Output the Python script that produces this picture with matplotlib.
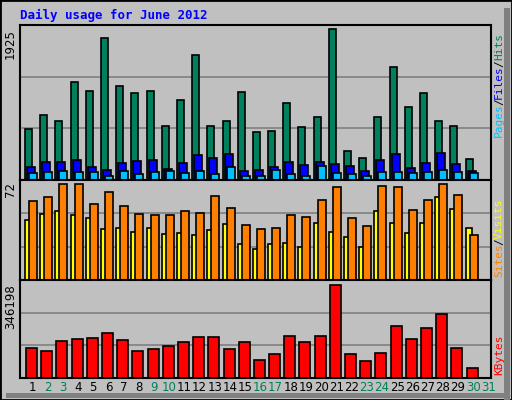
import matplotlib
matplotlib.use('Agg')
import matplotlib.pyplot as plt
import matplotlib.transforms as mtrans
import numpy as np

days = np.arange(1, 32)
hits = [645, 827, 749, 1246, 1128, 1807, 1193, 1102, 1128, 684, 1023, 1585, 684, 749, 1115, 605,
        618, 984, 671, 801, 1925, 370, 279, 801, 1442, 932, 1102, 749, 684, 266, 0]
files = [161, 226, 226, 253, 161, 122, 213, 240, 253, 135, 213, 318, 279, 331, 109, 122,
         161, 226, 187, 226, 200, 174, 109, 253, 331, 148, 213, 344, 200, 109, 0]
pages = [83, 96, 109, 96, 96, 57, 109, 70, 96, 109, 83, 109, 70, 161, 57, 57,
         122, 70, 57, 174, 83, 70, 57, 96, 96, 83, 96, 122, 96, 83, 0]
visits = [59.5, 62.6, 72, 72, 57.2, 66.5, 55.6, 49.4, 48.6, 48.6, 51.7, 50.2, 63.4, 54.1, 41.6, 38.5,
          39.2, 48.6, 47.8, 60.3, 69.7, 46.3, 40.8, 70.4, 69.7, 52.5, 60.3, 72, 64.2, 33.8, 0]
sites = [45.5, 49.4, 51.7, 48.6, 46.3, 38.5, 39.2, 36.1, 39.2, 34.6, 35.4, 33.8, 37.7, 42.4, 26.8, 23.7,
         26.8, 27.6, 25.2, 43.1, 36.1, 32.2, 25.2, 51.7, 43.1, 35.4, 43.1, 62.6, 53.3, 39.2, 0]
kbytes = [111187, 99815, 137720, 145301, 149091, 168044, 141511, 99815, 107397, 118768, 133930,
          152882, 152882, 107397, 133930, 65702, 88444, 156672, 133930, 156672, 346198, 88444,
          61911, 92235, 194578, 145301, 186997, 236273, 111187, 35378, 0]
weekend = {2, 3, 9, 10, 16, 17, 23, 24, 30, 31}

W, H = 512, 400
bg = '#C0C0C0'
fig = plt.figure(figsize=(W / 100, H / 100), dpi=100, facecolor=bg)

# outer border with shadow
fig.patches.append(plt.Rectangle((0, 0), 1, 1, transform=fig.transFigure, fill=False,
                                 edgecolor='black', lw=2))
fig.patches.append(plt.Rectangle((504 / W, 0), 6 / W, 1 - 8 / H, transform=fig.transFigure,
                                 color='#808080', lw=0))
fig.patches.append(plt.Rectangle((6 / W, 2 / H), 500 / W, 5 / H, transform=fig.transFigure,
                                 color='#808080', lw=0))

def panel(top, bottom):
    ax = fig.add_axes([20 / W, 1 - bottom / H, 471 / W, (bottom - top) / H])
    ax.set_facecolor(bg)
    ax.set_xlim(1, 32)
    ax.set_xticks([])
    ax.set_yticks([])
    for s in ax.spines.values():
        s.set_linewidth(1.5)
    return ax

sw = 471 / 31.0  # pixels per day slot

def u(px):
    return px / sw

kw = dict(align='edge', edgecolor='black', linewidth=1.2, zorder=3)

def grid(ax, top):
    ax.set_ylim(0, top)
    for f in (1 / 3, 2 / 3):
        ax.axhline(top * f, color='#808080', lw=1.2, zorder=1)

ax1 = panel(25, 180)
grid(ax1, 1925 * 151 / 147.5)
ax1.bar(days + u(5), hits, u(7), color='#00805C', **kw)
ax1.bar(days + u(7), files, u(8), color='#0000FF', **kw)
ax1.bar(days + u(9), pages, u(8), color='#00C0FF', **kw)

ax2 = panel(180, 280)
grid(ax2, 72 * 96.5 / 92.3)
ax2.bar(days + u(5), sites, u(6), color='#FFFF00', **kw)
ax2.bar(days + u(9), visits, u(8), color='#FF8000', **kw)

ax3 = panel(280, 378)
grid(ax3, 346198 * 96 / 91.3)
ax3.bar(days + u(6), kbytes, u(11), color='#FF0000', **kw)

tr = mtrans.blended_transform_factory(ax3.transData, fig.transFigure)
for d in days:
    ax3.text(d + u(12.5), 1 - 381 / H, str(d), transform=tr, ha='center', va='top',
             fontsize=8.5, color='#00805C' if d in weekend else 'black')

fig.text(20 / W, 1 - 15 / H, 'Daily usage for June 2012', color='#0000FF', fontsize=9,
         family='DejaVu Sans Mono', fontweight='bold', va='center')

for txt, y in (('1925', 29), ('72', 182), ('346198', 284)):
    fig.text(17 / W, 1 - y / H, txt, rotation=90, ha='right', va='top', fontsize=8.5)

CW = 6.4  # approx px per mono char

def side(parts, ybottom):
    # text reads bottom-to-top, stacked upward from ybottom
    y = ybottom
    for txt, col in parts:
        fig.text(499 / W, 1 - y / H, txt, rotation=90, ha='center', va='bottom',
                 fontsize=8, family='DejaVu Sans Mono', color=col)
        y -= len(txt) * CW

side([('Pages', '#00C0FF'), ('/', 'black'), ('Files', '#0000FF'), ('/', 'black'),
      ('Hits', '#00805C')], 137)
side([('Sites', '#FF8000'), ('/', 'black'), ('Visits', '#FFFF00')], 277)
side([('KBytes', '#FF0000')], 375)

fig.savefig('out.png', dpi=100, facecolor=bg)
